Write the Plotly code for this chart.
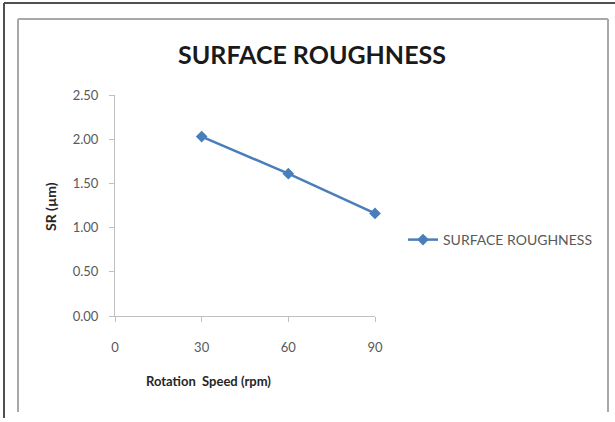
import plotly.graph_objects as go

speeds = [30, 60, 90]
roughness = [2.03, 1.61, 1.16]
series_name = "SURFACE ROUGHNESS"
x_ticks = [0, 30, 60, 90]
y_ticks = [0, 0.5, 1.0, 1.5, 2.0, 2.5]
y_tick_labels = ["0.00", "0.50", "1.00", "1.50", "2.00", "2.50"]

W, H = 615, 422
L, R, T, B = 115, 375, 95, 316

def px(x):
    return (x - L) / (R - L)

def py(y):
    return (B - y) / (B - T)

fig = go.Figure()
fig.add_trace(go.Scatter(
    x=speeds, y=roughness, name=series_name, mode="lines+markers",
    line=dict(color="#4A7EBB", width=2.5),
    marker=dict(symbol="diamond", size=9, color="#4A7EBB"),
    cliponaxis=False,
))

font_family = "Lato, 'Open Sans', sans-serif"
shapes = []
for x0, y0, x1, y1, c, w in [
    (4, 3, 615, 3, "#505050", 2),
    (4, 3, 4, 418, "#505050", 2),
    (18, 19, 608, 19, "#a8a8a8", 2),
    (18, 19, 18, 412, "#a8a8a8", 2),
    (608, 19, 608, 412, "#a8a8a8", 2),
]:
    shapes.append(dict(type="line", xref="paper", yref="paper",
                       x0=px(x0), y0=py(y0), x1=px(x1), y1=py(y1),
                       line=dict(color=c, width=w), layer="above"))

annotations = [
    dict(text="<b>Rotation  Speed (rpm)</b>", xref="paper", yref="paper",
         x=px(208), y=py(381), xanchor="center", yanchor="middle", showarrow=False,
         font=dict(family=font_family, size=13, color="#262626")),
    dict(text="<b>SR (µm)</b>", xref="paper", yref="paper", textangle=-90,
         x=px(50), y=py(207), xanchor="center", yanchor="middle", showarrow=False,
         font=dict(family=font_family, size=14, color="#262626")),
]

fig.update_layout(
    width=W, height=H, autosize=False,
    margin=dict(l=L, r=W - R, t=T, b=H - B),
    paper_bgcolor="white", plot_bgcolor="white",
    font=dict(family=font_family, color="#595959", size=13),
    title=dict(text="<b>SURFACE ROUGHNESS</b>", xref="container", x=312 / W,
               xanchor="center", yref="container", y=1 - 55 / H, yanchor="middle",
               font=dict(family=font_family, size=25, color="#1a1a1a")),
    xaxis=dict(range=[0, 90], tickvals=x_ticks, ticktext=[str(v) for v in x_ticks],
               showgrid=False, zeroline=False, showline=True, linecolor="#bfbfbf",
               linewidth=1, ticks="outside", ticklen=5, tickcolor="#bfbfbf",
               ticklabelstandoff=14,
               tickfont=dict(size=13, color="#595959")),
    yaxis=dict(range=[0, 2.5], tickvals=y_ticks, ticktext=y_tick_labels,
               showgrid=False, zeroline=False, showline=True, linecolor="#bfbfbf",
               linewidth=1, ticks="outside", ticklen=5, tickcolor="#bfbfbf",
               ticklabelstandoff=8,
               tickfont=dict(size=13, color="#595959")),
    showlegend=True,
    legend=dict(x=px(403), y=py(240), xanchor="left", yanchor="middle",
                font=dict(size=14, color="#595959"), bgcolor="rgba(0,0,0,0)"),
    shapes=shapes,
    annotations=annotations,
)

fig.write_html("out.html")
